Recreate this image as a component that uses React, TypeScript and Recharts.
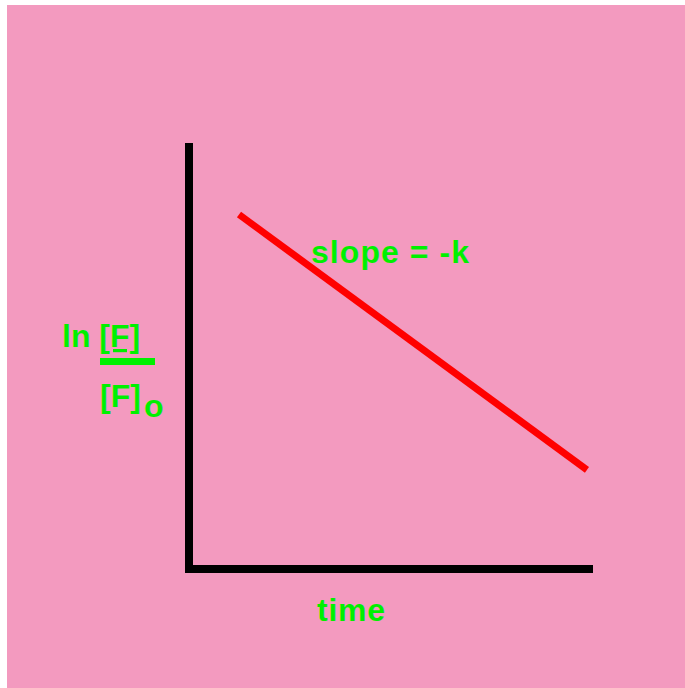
import React from "react";
import { LineChart, Line, XAxis, YAxis, Customized } from "recharts";

const timeValues = [1.25, 9.95];
const lnRatioValues = [8.4, 2.35];
const xLabel = "time";
const slopeLabel = "slope = -k";
const yLabelTop = "ln ";
const yLabelNum = "[F]";
const yLabelDen = "[F]";
const yLabelSub = "o";

const data = timeValues.map((t, i) => ({ t, v: lnRatioValues[i] }));

const GREEN = "#00f000";
const FONT = "'Liberation Sans', Arial, Helvetica, sans-serif";

const textStyle: React.CSSProperties = {
  fontFamily: FONT,
  fontWeight: 700,
  fontSize: 32,
};

const Labels = () => (
  <g>
    <text x={311} y={263} fill={GREEN} style={textStyle} textLength={158}>
      {slopeLabel}
    </text>
    <text x={317} y={621} fill={GREEN} style={textStyle} textLength={68}>
      {xLabel}
    </text>
    <text x={62} y={347} fill={GREEN} style={textStyle}>
      {yLabelTop}
      <tspan style={{ textDecoration: "underline" }}>{yLabelNum}</tspan>
    </text>
    <rect x={100} y={358} width={55} height={7} fill={GREEN} />
    <text x={100} y={407} fill={GREEN} style={textStyle}>
      {yLabelDen}
    </text>
    <text x={144} y={417} fill={GREEN} style={textStyle}>
      {yLabelSub}
    </text>
  </g>
);

const axisLineStyle = { stroke: "#000", strokeWidth: 8, strokeLinecap: "square" as const };

export default function App() {
  return (
    <div
      style={{
        position: "absolute",
        left: 0,
        top: 0,
        width: 685,
        height: 688,
        background: "#ffffff",
      }}
    >
      <div
        style={{
          position: "absolute",
          left: 7,
          top: 5,
          width: 678,
          height: 683,
          background: "#f39abf",
        }}
      />
      <div style={{ position: "absolute", left: 0, top: 0 }}>
        <LineChart
          width={685}
          height={688}
          data={data}
          margin={{ top: 147, right: 96, bottom: 89, left: 159 }}
        >
          <XAxis
            type="number"
            dataKey="t"
            domain={[0, 10]}
            allowDataOverflow
            tick={false}
            tickLine={false}
            height={30}
            axisLine={axisLineStyle}
          />
          <YAxis
            type="number"
            domain={[0, 10]}
            allowDataOverflow
            tick={false}
            tickLine={false}
            width={30}
            axisLine={axisLineStyle}
          />
          <Line
            type="linear"
            dataKey="v"
            stroke="#ff0000"
            strokeWidth={7}
            dot={false}
            activeDot={false}
            isAnimationActive={false}
          />
          <Customized component={Labels} />
        </LineChart>
      </div>
    </div>
  );
}
